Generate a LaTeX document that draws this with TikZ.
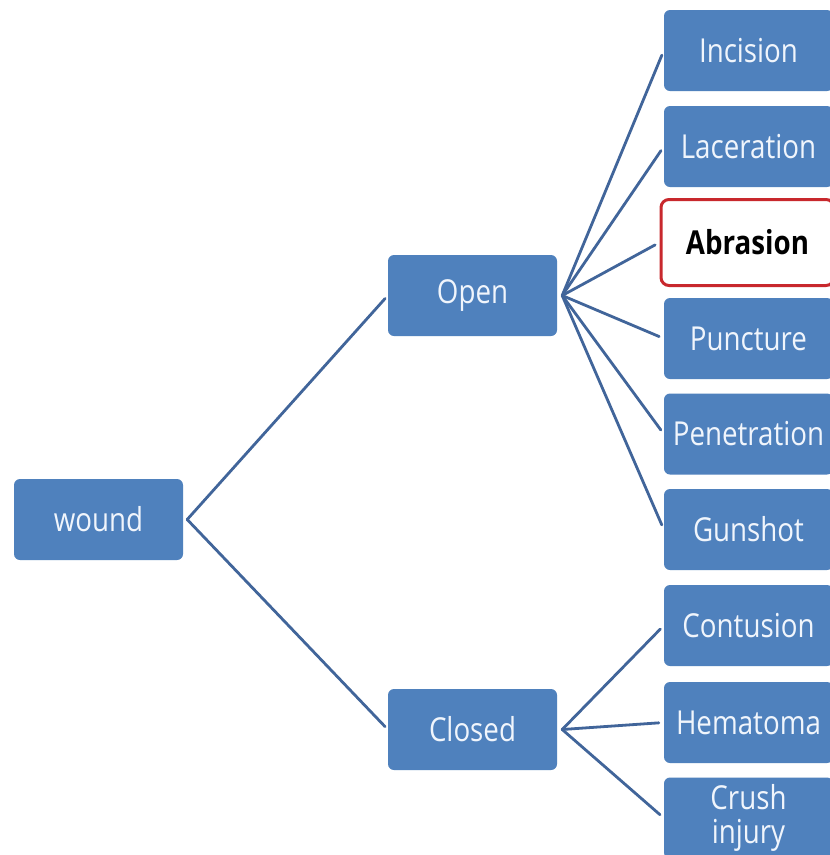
\documentclass[tikz,border=0pt]{standalone}
\usepackage{fontspec}
\setmainfont{Open Sans}[FakeStretch=0.84]
\definecolor{boxblue}{HTML}{4F81BD}
\definecolor{linkblue}{HTML}{41659A}
\definecolor{markred}{HTML}{C8282D}
\definecolor{paletext}{HTML}{F0F5FC}
\begin{document}
\begin{tikzpicture}[x=1pt,y=-1pt,
  cat/.style={draw=none, fill=boxblue, rounded corners=6pt, minimum width=169pt,
    minimum height=81pt, inner sep=0pt, text=paletext, font=\fontsize{33}{36}\selectfont,
    align=center},
  hilite/.style={draw=markred, line width=3pt, fill=white, rounded corners=8pt,
    minimum width=173pt, minimum height=86pt, inner sep=0pt, text=black,
    font=\bfseries\fontsize{33}{36}\selectfont},
  link/.style={draw=linkblue, line width=2.8pt, line cap=round}]
\useasboundingbox (0,0) rectangle (830,855);
\clip (0,0) rectangle (830,855);
\fill[white] (0,0) rectangle (830,855);

% root and first level
\node[cat] (wound)  at (98.5,519.5) {wound};
\node[cat] (open)   at (472.5,295.5) {Open};
\node[cat] (closed) at (472.5,729.5) {Closed};

% open wound kinds
\node[cat]    (incision)    at (748.5,50.5)  {Incision};
\node[cat]    (laceration)  at (748.5,146.5) {Laceration};
\node[hilite] (abrasion)    at (747.5,242.5) {Abrasion};
\node[cat]    (puncture)    at (748.5,338.5) {Puncture};
\node[cat]    (penetration) at (748.5,434)   {Penetration};
\node[cat]    (gunshot)     at (748.5,529.5) {Gunshot};

% closed wound kinds
\node[cat] (contusion) at (748.5,625.5) {Contusion};
\node[cat] (hematoma)  at (748.5,722.5) {Hematoma};
\node[cat,font=\fontsize{33}{34}\selectfont] (crush) at (748.5,818) {Crush\\injury};

% branching points just right of each parent
\coordinate (woundhub)  at ([xshift=4pt]wound.east);
\coordinate (openhub)   at ([xshift=5pt]open.east);
\coordinate (closedhub) at ([xshift=5pt]closed.east);

\draw[link,shorten >=4pt] (woundhub) -- (open.west);
\draw[link,shorten >=4pt] (woundhub) -- (closed.west);

\foreach \n in {incision,laceration,abrasion,puncture,penetration,gunshot}
  \draw[link,shorten >=5pt] (openhub) -- (\n.west);
\foreach \n in {contusion,hematoma,crush}
  \draw[link,shorten >=5pt] (closedhub) -- (\n.west);
\end{tikzpicture}
\end{document}
